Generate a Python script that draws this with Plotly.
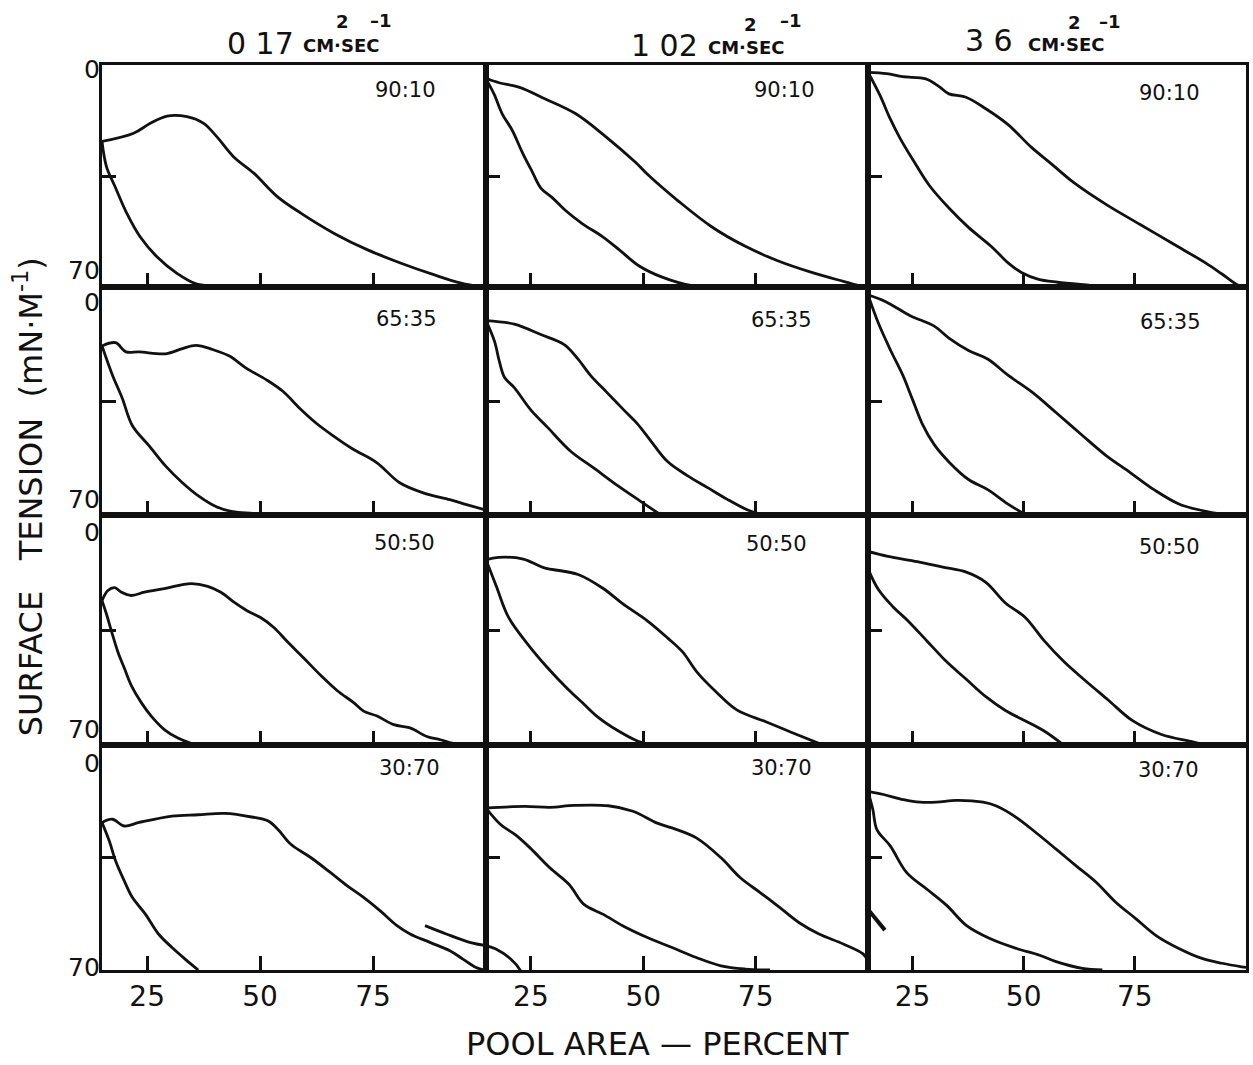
import plotly.graph_objects as go
from plotly.subplots import make_subplots

# ---------------- data (x = pool area %, y = surface tension mN/m) ----------------
col_titles = ["0 17", "1 02", "3 6"]
row_ratios = ["90:10", "65:35", "50:50", "30:70"]
x_ticks = [25, 50, 75]

# row 1 : 90:10
p11_up_x = [15, 22.0, 25.7, 29.4, 33.8, 37.5, 40.4, 44.1, 48.6, 53.8, 59.0, 66.4, 73.8, 81.2, 88.6, 94.5, 98.9]
p11_up_y = [24.1, 21.5, 18.4, 16.1, 16.3, 18.4, 22.6, 28.9, 34.1, 41.5, 46.7, 53.1, 58.3, 62.5, 66.2, 68.8, 70]
p11_lo_x = [15, 16.0, 17.9, 20.5, 23.4, 27.1, 31.6, 36.0, 40.5, 47.9]
p11_lo_y = [24.1, 32.1, 38.4, 46.8, 54.1, 60.4, 65.7, 69.1, 69.7, 70]

p12_up_x = [15, 17.9, 22.3, 28.2, 34.9, 41.5, 48.2, 51.1, 57.8, 65.2, 72.6, 79.9, 87.3, 94.7, 99.1]
p12_up_y = [4.3, 5.6, 7.0, 10.7, 15.3, 22.4, 30.6, 34.7, 42.9, 51.0, 57.1, 61.7, 65.3, 68.3, 70]
p12_lo_x = [15, 16.8, 18.6, 20.8, 23.1, 25.3, 27.2, 29.8, 32.7, 36.4, 40.9, 44.6, 49.0, 54.2, 60.9, 66.8]
p12_lo_y = [4.4, 9.2, 15.4, 20.5, 27.6, 33.7, 38.8, 41.9, 45.9, 50.0, 54.1, 58.2, 63.3, 66.9, 69.6, 70]

p13_up_x = [15, 19.2, 22.8, 28.0, 31.0, 33.2, 36.9, 41.4, 46.5, 51.7, 56.1, 61.3, 68.7, 76.1, 83.5, 90.9, 94.6, 98.3, 100]
p13_up_y = [2.3, 2.7, 3.7, 4.4, 6.8, 9.1, 10.1, 13.7, 18.8, 25.9, 31.0, 37.1, 44.1, 50.2, 56.3, 62.4, 65.9, 69.5, 70]
p13_lo_x = [15, 17.7, 19.9, 22.1, 25.1, 28.8, 33.2, 37.6, 42.8, 46.5, 49.5, 53.2, 57.6, 65.0, 68.7]
p13_lo_y = [2.3, 9.6, 16.7, 22.8, 29.9, 38.0, 45.1, 51.2, 57.3, 62.4, 65.4, 67.5, 68.5, 69.5, 70]

# row 2 : 65:35
p21_up_x = [15, 18.0, 20.3, 23.2, 29.1, 32.8, 35.8, 39.5, 43.2, 46.9, 51.4, 55.1, 58.8, 62.5, 66.1, 70.6, 75.8, 80.9, 86.1, 92.0, 95.7, 99.8]
p21_up_y = [18.1, 17.1, 19.9, 19.9, 20.5, 18.9, 17.9, 19.2, 21.2, 24.9, 28.5, 32.1, 37.3, 41.9, 45.6, 49.8, 53.9, 60.1, 63.2, 65.3, 66.8, 68.4]
p21_lo_x = [15, 17.3, 19.5, 21.7, 25.4, 29.1, 32.8, 36.5, 40.2, 43.9, 48.4, 52]
p21_lo_y = [18.1, 27.0, 34.2, 42.5, 48.7, 55.0, 60.1, 64.3, 67.4, 69.0, 69.5, 70]

p22_up_x = [15, 21.3, 27.2, 32.4, 35.4, 38.3, 42.0, 45.7, 48.7, 51.7, 55.4, 59.8, 64.3, 68.7, 73.1, 75.4]
p22_up_y = [10.3, 11.4, 14.6, 17.7, 22.0, 27.2, 32.5, 37.8, 42.0, 47.3, 53.6, 57.9, 61.6, 65.2, 68.4, 69.5]
p22_lo_x = [15, 16.9, 18.0, 19.1, 21.3, 25.0, 28.7, 33.9, 39.1, 44.3, 49.4, 53.9]
p22_lo_y = [10.3, 16.7, 23.0, 27.7, 30.9, 37.8, 43.1, 50.5, 55.7, 61.0, 65.8, 70]

p23_up_x = [15, 19.0, 24.5, 29.9, 33.2, 37.6, 42.0, 46.4, 51.9, 57.4, 62.9, 68.4, 73.9, 79.4, 84.9, 90.4, 94.8]
p23_up_y = [2.4, 4.5, 8.8, 12.0, 15.7, 19.5, 22.2, 27.0, 32.3, 38.7, 45.2, 51.6, 56.9, 62.3, 66.6, 68.7, 69.8]
p23_lo_x = [15, 17.3, 20.1, 22.8, 25.0, 27.2, 29.9, 33.2, 37.6, 42.0, 46.4, 49.7]
p23_lo_y = [2.4, 11.0, 19.5, 27.0, 34.5, 42.0, 48.4, 53.7, 59.1, 62.3, 66.6, 69.3]

# row 3 : 50:50
p31_up_x = [15.0, 16.3, 17.8, 19.3, 21.5, 24.4, 28.8, 34.7, 38.4, 41.3, 44.3, 47.2, 50.1, 53.1, 56.0, 59.7, 63.4, 67.1, 70.7, 72.9, 75.9, 79.6, 83.2, 86.9, 89.9, 92.8, 100]
p31_up_y = [26.1, 23.0, 22.1, 23.5, 24.5, 23.5, 22.4, 20.9, 21.7, 23.5, 26.6, 29.2, 31.2, 34.3, 38.5, 43.6, 48.8, 53.5, 57.1, 59.7, 61.2, 63.8, 64.8, 67.4, 68.4, 69.5, 69.5]
p31_lo_x = [15.0, 16.0, 17.1, 18.5, 20.0, 21.5, 23.7, 25.9, 28.8, 31.8, 34.7, 36.2]
p31_lo_y = [26.1, 30.2, 35.4, 41.6, 46.8, 51.9, 57.1, 61.2, 65.3, 67.9, 69.5, 70]

p32_up_x = [15, 17.8, 23.3, 27.8, 35.5, 41.0, 45.4, 50.9, 55.4, 58.7, 62.0, 66.4, 70.8, 77.4, 82.9, 89.6]
p32_up_y = [13.6, 12.9, 13.4, 16.0, 18.1, 22.3, 27.0, 32.2, 37.4, 41.6, 47.9, 54.1, 59.3, 63.0, 66.1, 69.8]
p32_lo_x = [15, 17.3, 20.0, 24.4, 28.9, 33.3, 36.6, 39.9, 44.3, 48.7, 50.9]
p32_lo_y = [13.6, 21.7, 31.1, 39.5, 46.8, 53.1, 57.3, 61.5, 65.6, 68.8, 69.8]

p33_up_x = [15, 19.5, 26.1, 31.6, 37.1, 41.5, 45.9, 50.3, 54.7, 59.1, 63.5, 69.0, 74.5, 81.0, 87.6, 90.9]
p33_up_y = [11.1, 12.6, 14.2, 15.8, 17.4, 20.5, 26.8, 31.1, 38.4, 44.7, 50.0, 56.3, 62.6, 66.8, 68.9, 70]
p33_lo_x = [15, 17.3, 20.6, 23.9, 28.3, 32.7, 37.1, 41.5, 45.9, 50.3, 54.7, 58.5]
p33_lo_y = [16.3, 22.6, 27.9, 32.1, 38.4, 44.7, 50.0, 55.3, 59.5, 62.6, 65.8, 69.5]

# row 4 : 30:70
p41_up_x = [15, 17.3, 19.9, 23.2, 30.5, 36.3, 42.2, 48.1, 51.7, 53.9, 56.8, 61.2, 65.6, 69.3, 72.9, 76.6, 80.3, 83.2, 87.6, 92.0, 94.9, 97.8, 99.7]
p41_up_y = [24.1, 23.1, 25.2, 24.1, 22.1, 21.7, 21.3, 22.4, 23.6, 26.2, 30.9, 35.0, 39.7, 43.8, 47.4, 51.6, 56.2, 58.8, 61.4, 64.0, 66.6, 69.2, 70]
p41_lo_x = [15, 16.6, 18.0, 19.9, 21.7, 24.6, 27.5, 30.5, 33.4, 36.3]
p41_lo_y = [24.1, 29.8, 36.0, 42.2, 47.4, 52.6, 58.8, 63.0, 66.6, 70.0]
p41_stray_x = [86.5, 91.2, 96.4, 100]
p41_stray_y = [56.2, 58.8, 61.4, 62.4]

p42_up_x = [15, 23.7, 29.2, 34.6, 42.2, 47.7, 53.1, 56.4, 61.8, 67.3, 71.6, 76.0, 80.4, 84.7, 89.1, 94.5, 98.9, 100]
p42_up_y = [19.6, 19.1, 19.4, 18.8, 18.9, 20.6, 24.3, 25.8, 28.9, 35.1, 41.3, 45.9, 50.6, 55.3, 58.8, 61.9, 65.0, 67.2]
p42_lo_x = [15, 18.3, 21.5, 24.8, 29.2, 33.5, 36.8, 41.1, 45.5, 50.9, 56.4, 61.8, 67.3, 72.7, 78.2]
p42_lo_y = [19.6, 24.8, 27.9, 32.0, 38.2, 43.4, 49.6, 52.7, 56.3, 59.9, 63.0, 66.1, 68.7, 69.7, 70]
p42_stray_x = [15, 17.2, 20.5, 22.7, 23.5]
p42_stray_y = [62.4, 63.5, 66.6, 70.2, 73]

p43_up_x = [15, 18.5, 23.0, 26.7, 30.4, 34.9, 40.9, 43.9, 48.4, 52.8, 57.3, 61.8, 66.3, 70.7, 75.2, 79.7, 84.9, 90.1, 94.6, 99.0, 100]
p43_up_y = [14.4, 15.4, 17.0, 17.8, 17.8, 17.2, 17.8, 19.0, 22.6, 27.3, 32.4, 37.6, 42.7, 48.9, 54.0, 59.2, 63.3, 66.4, 67.9, 69.0, 69.2]
p43_lo_x = [15, 16.1, 17.0, 20.0, 23.7, 28.2, 32.7, 37.1, 42.4, 48.4, 53.6, 57.3, 63.2, 67.7]
p43_lo_y = [14.4, 20.1, 26.3, 31.4, 39.7, 44.8, 49.9, 56.1, 60.2, 63.3, 65.4, 67.4, 69.5, 70]
p43_mark_x = [15.2, 18.8]
p43_mark_y = [51.5, 57.6]

panels = {
    (1, 1): [(p11_up_x, p11_up_y), (p11_lo_x, p11_lo_y)],
    (1, 2): [(p12_up_x, p12_up_y), (p12_lo_x, p12_lo_y)],
    (1, 3): [(p13_up_x, p13_up_y), (p13_lo_x, p13_lo_y)],
    (2, 1): [(p21_up_x, p21_up_y), (p21_lo_x, p21_lo_y)],
    (2, 2): [(p22_up_x, p22_up_y), (p22_lo_x, p22_lo_y)],
    (2, 3): [(p23_up_x, p23_up_y), (p23_lo_x, p23_lo_y)],
    (3, 1): [(p31_up_x, p31_up_y), (p31_lo_x, p31_lo_y)],
    (3, 2): [(p32_up_x, p32_up_y), (p32_lo_x, p32_lo_y)],
    (3, 3): [(p33_up_x, p33_up_y), (p33_lo_x, p33_lo_y)],
    (4, 1): [(p41_up_x, p41_up_y), (p41_lo_x, p41_lo_y), (p41_stray_x, p41_stray_y)],
    (4, 2): [(p42_up_x, p42_up_y), (p42_lo_x, p42_lo_y), (p42_stray_x, p42_stray_y)],
    (4, 3): [(p43_up_x, p43_up_y), (p43_lo_x, p43_lo_y)],
}

# ---------------- figure ----------------
W, H = 1253, 1065
ML, MR, MT, MB = 102, 4, 65, 95
FONT = "DejaVu Sans"
INK = "#111111"

fig = make_subplots(rows=4, cols=3, horizontal_spacing=0, vertical_spacing=0,
                    column_widths=[385, 383, 379], row_heights=[222, 228, 230, 225])

for (r, c), curves in panels.items():
    for xs, ys in curves:
        fig.add_trace(go.Scatter(x=xs, y=ys, mode="lines",
                                 line=dict(color=INK, width=2.8, shape="spline", smoothing=1.0),
                                 showlegend=False, hoverinfo="skip"), row=r, col=c)
fig.add_trace(go.Scatter(x=p43_mark_x, y=p43_mark_y, mode="lines",
                         line=dict(color=INK, width=4), showlegend=False, hoverinfo="skip"),
              row=4, col=3)

for r in range(1, 5):
    for c in range(1, 4):
        fig.update_xaxes(range=[15, 100], tickvals=x_ticks,
                         ticks="inside", ticklen=14, tickwidth=2.5, tickcolor=INK,
                         showticklabels=(r == 4), tickfont=dict(family=FONT, size=28, color=INK),
                         showline=True, linewidth=2.6, linecolor=INK, mirror=True,
                         showgrid=False, zeroline=False, row=r, col=c)
        fig.update_yaxes(range=[70, 0], tickvals=[35],
                         ticks="inside", ticklen=14, tickwidth=2.5, tickcolor=INK,
                         showticklabels=False,
                         showline=True, linewidth=2.6, linecolor=INK, mirror=True,
                         showgrid=False, zeroline=False, row=r, col=c)


def px(x, y):
    return (x - ML) / (W - ML - MR), (H - MB - y) / (H - MT - MB)


anns = []


def add_text(x, y, text, size, xanchor="center", angle=0, weight="normal"):
    ax, ay = px(x, y)
    anns.append(dict(x=ax, y=ay, xref="paper", yref="paper", text=text, showarrow=False,
                     xanchor=xanchor, yanchor="middle", textangle=angle, borderpad=0,
                     font=dict(family=FONT, size=size, color=INK, weight=weight)))


# column titles
title_pos = [(261, 43, 342, 45, 343, 21, 382, 20),
             (666, 45, 748, 47, 752, 24, 793, 20),
             (991, 41, 1069, 44, 1077, 22, 1113, 21)]
for t, (nx, ny, ux, uy, sx, sy, ex, ey) in zip(col_titles, title_pos):
    add_text(nx, ny, t, 30)
    add_text(ux, uy, "CM·SEC", 18, weight="bold")
    add_text(sx, sy, "2", 18, weight="bold")
    add_text(ex, ey, "–1", 18, weight="bold")

# ratio labels per panel
ratio_pos = [[(406, 90), (786, 90), (1172, 93)],
             [(407, 319), (783, 320), (1173, 322)],
             [(405, 543), (778, 544), (1172, 547)],
             [(410, 768), (783, 768), (1171, 770)]]
for ratio, row in zip(row_ratios, ratio_pos):
    for (x, y) in row:
        add_text(x, y, ratio, 21)

# y tick labels (0 at top, 70 at bottom of each row)
zero_y = [70, 303, 532, 763]
seventy_y = [270, 499, 729, 967]
for zy, sy in zip(zero_y, seventy_y):
    add_text(101, zy, "0", 25, xanchor="right")
    add_text(101, sy, "70", 25, xanchor="right")

# axis titles
add_text(28, 497, "SURFACE   TENSION  (mN·M<sup>-1</sup>)", 32, angle=-90)
add_text(659, 1044, "POOL AREA — PERCENT", 32)

fig.update_layout(width=W, height=H, margin=dict(l=ML, r=MR, t=MT, b=MB),
                  paper_bgcolor="white", plot_bgcolor="white",
                  annotations=anns, showlegend=False)

fig.write_html("out.html")
